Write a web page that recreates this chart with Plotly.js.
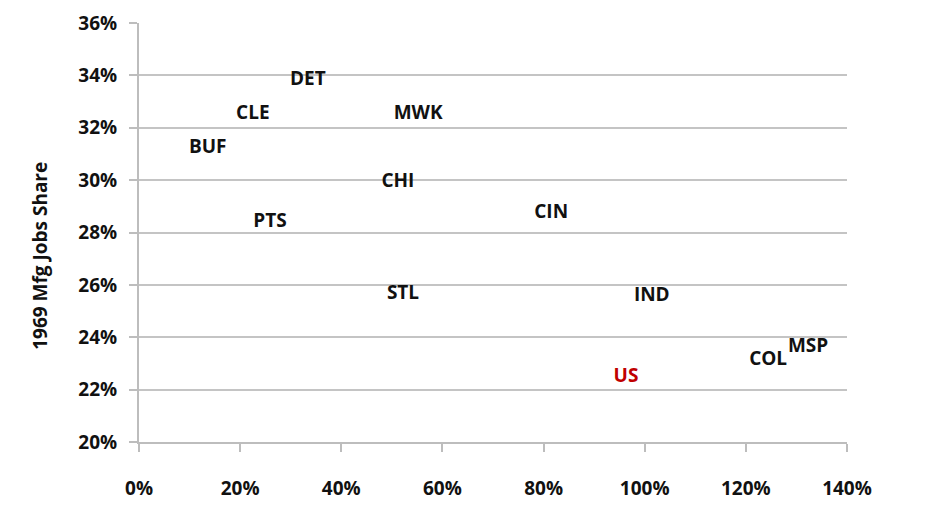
<!DOCTYPE html>
<html>
<head>
<meta charset="utf-8">
<script src="https://cdn.plot.ly/plotly-3.0.1.min.js"></script>
<style>html,body{margin:0;padding:0;background:#fff;}#chart{width:940px;height:515px;}</style>
</head>
<body>
<div id="chart"></div>
<script>
const metros = ["DET","CLE","MWK","BUF","CHI","PTS","CIN","STL","IND","COL","MSP"];
const growth = [0.334, 0.225, 0.552, 0.136, 0.512, 0.259, 0.815, 0.522, 1.014, 1.244, 1.323];
const mfgShare = [0.338, 0.325, 0.325, 0.312, 0.299, 0.284, 0.2875, 0.2566, 0.2558, 0.2314, 0.236];
const usLabel = ["US"];
const usGrowth = [0.963];
const usShare = [0.2249];
const xTicks = [0, 0.2, 0.4, 0.6, 0.8, 1.0, 1.2, 1.4];
const yTicks = [0.20, 0.22, 0.24, 0.26, 0.28, 0.30, 0.32, 0.34, 0.36];
const yTitle = "1969 Mfg Jobs Share";

const font = "Open Sans, Liberation Sans, sans-serif";
const traces = [
  {x: growth, y: mfgShare, text: metros, mode: "text", type: "scatter",
   textposition: "middle center", textfont: {family: font, size: 19, color: "#111", weight: 700},
   hoverinfo: "skip", cliponaxis: false},
  {x: usGrowth, y: usShare, text: usLabel, mode: "text", type: "scatter",
   textposition: "middle center", textfont: {family: font, size: 19, color: "#c00000", weight: 700},
   hoverinfo: "skip", cliponaxis: false}
];
const layout = {
  width: 940, height: 515,
  margin: {l: 139, r: 93, t: 23, b: 73},
  paper_bgcolor: "#fff", plot_bgcolor: "#fff",
  showlegend: false,
  font: {family: font, color: "#111"},
  xaxis: {range: [0, 1.4], tickvals: xTicks, tickformat: ".0%", showgrid: false, zeroline: false,
          showline: true, linecolor: "#bdbdbd", linewidth: 2, ticks: "outside", ticklen: 8,
          tickcolor: "#bdbdbd", tickwidth: 2, ticklabelstandoff: 20,
          tickfont: {family: font, size: 19, color: "#111", weight: 700}},
  yaxis: {range: [0.20, 0.36], tickvals: yTicks, tickformat: ".0%", showgrid: true, gridcolor: "#c4c4c4",
          gridwidth: 2, zeroline: false, showline: true, linecolor: "#bdbdbd", linewidth: 2,
          ticks: "outside", ticklen: 8, tickcolor: "#bdbdbd", tickwidth: 2, ticklabelstandoff: 8,
          tickfont: {family: font, size: 19, color: "#111", weight: 700}},
  annotations: [{text: yTitle, xref: "paper", yref: "paper", x: -0.14, y: 0.444, textangle: -90,
                 showarrow: false, font: {family: font, size: 19, color: "#111", weight: 700},
                 xanchor: "center", yanchor: "middle"}]
};
Plotly.newPlot("chart", traces, layout, {displayModeBar: false, staticPlot: true});
</script>
</body>
</html>
